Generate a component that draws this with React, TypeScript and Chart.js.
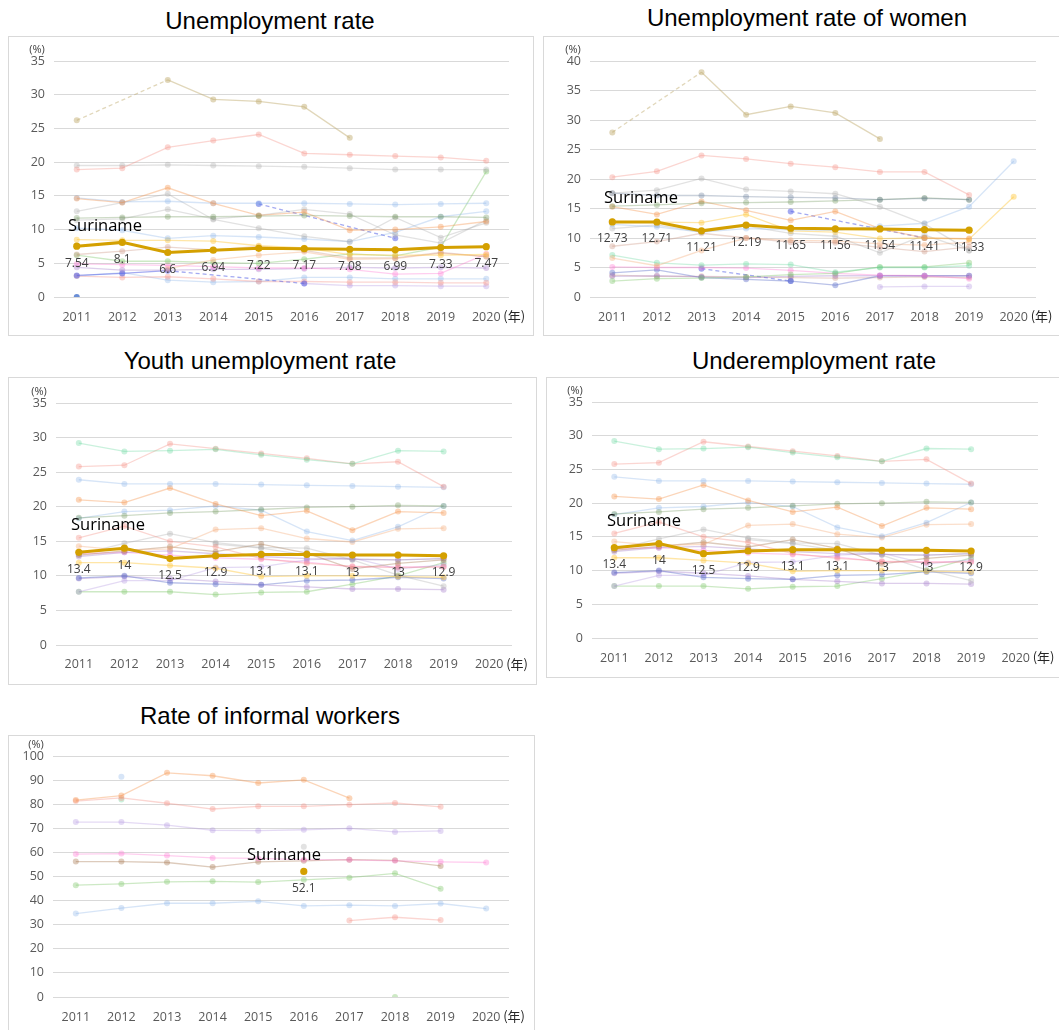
import React, { useEffect, useRef } from 'react';
import { Chart, registerables } from 'chart.js';
Chart.register(...registerables);

const years = ['2011', '2012', '2013', '2014', '2015', '2016', '2017', '2018', '2019', '2020'];

// ---------- Unemployment rate ----------
const unempSuriname = [7.54, 8.1, 6.6, 6.94, 7.22, 7.17, 7.08, 6.99, 7.33, 7.47];
const unempOthers: (number | null)[][] = [
  [26.2, null, 32.2, 29.3, 29.0, 28.2, 23.6, null, null, null],
  [18.9, 19.1, 22.2, 23.2, 24.1, 21.3, 21.1, 20.9, 20.7, 20.2],
  [19.5, 19.5, 19.6, 19.5, 19.4, 19.3, 19.1, 18.9, 18.9, 18.9],
  [11.7, 11.8, 11.9, 11.9, 12.0, 12.1, 12.0, 11.9, 11.9, 11.8],
  [14.6, 14.0, 16.2, 13.9, 12.1, 12.6, 9.9, 10.0, 10.4, 11.2],
  [14.7, 14.1, 14.2, 13.9, 13.9, 13.9, 13.8, 13.7, 13.8, 13.9],
  [12.7, 14.0, 15.3, 11.5, 10.2, 9.0, 8.2, 11.8, 8.8, 11.0],
  [11.4, 11.6, 13.0, 11.6, 12.1, 13.0, 12.3, 9.2, 8.0, 11.4],
  [null, null, null, null, 13.8, null, null, 8.7, null, null],
  [10.2, 9.9, 8.7, 9.1, 8.9, 8.6, 8.2, 9.6, 11.9, 12.7],
  [8.5, 8.4, 8.4, 8.3, 7.6, 7.3, 6.3, 6.2, 6.2, 6.3],
  [6.3, 6.8, 7.4, 7.0, 7.5, 6.9, 5.8, 5.8, 6.6, 6.0],
  [null, null, 4.2, 5.5, 6.2, 6.7, 5.6, 5.7, 6.5, 6.0],
  [6.2, 5.3, 5.3, 5.1, 5.0, 5.6, 6.4, 6.1, 7.4, 18.6],
  [4.9, 4.8, 4.7, 4.5, 4.3, 4.3, 4.1, 3.4, 3.5, 6.4],
  [4.4, 4.0, 4.0, 4.1, 4.1, 4.2, 4.4, 4.3, 4.4, 4.3],
  [3.2, 3.5, 3.9, null, null, 2.0, null, null, null, null],
  [3.1, 2.9, 3.0, 2.7, 2.3, 2.3, 2.2, 2.2, 2.1, 2.1],
  [3.1, 3.6, 2.5, 2.2, 2.3, 2.9, 2.9, 2.7, 2.7, 2.7],
  [null, null, null, null, null, 2.0, 1.7, 1.7, 1.6, 1.6],
  [0, null, null, null, null, null, null, null, null, null],
];

// ---------- Unemployment rate of women ----------
const womenSuriname = [12.73, 12.71, 11.21, 12.19, 11.65, 11.56, 11.54, 11.41, 11.33, null];
const womenOthers: (number | null)[][] = [
  [27.9, null, 38.1, 30.9, 32.3, 31.2, 26.8, null, null, null],
  [20.3, 21.3, 24.0, 23.4, 22.6, 22.0, 21.2, 21.2, 17.3, null],
  [17.6, 18.1, 20.1, 18.2, 17.9, 17.5, 15.3, 12.4, 7.9, null],
  [17.6, 17.2, 17.2, 17.0, 16.9, 16.8, 16.5, 16.7, 16.5, null],
  [15.4, 15.6, 15.9, 16.0, 16.1, 16.3, 16.5, 16.8, 16.5, null],
  [12.3, 11.9, 11.0, 11.6, 11.4, 11.3, 12.0, 12.5, 15.3, 23.0],
  [15.3, 14.0, 16.2, 14.7, 13.0, 14.5, 11.6, 10.0, 9.9, null],
  [12.8, 12.7, 12.6, 14.0, 11.2, 11.0, 9.9, 10.0, 9.8, 17.0],
  [11.6, 12.2, 11.0, 12.0, 10.8, 10.3, 7.5, 10.5, 7.9, null],
  [8.6, 9.4, 10.8, 10.0, 9.3, 9.2, 8.4, 7.7, 8.5, null],
  [6.6, 5.3, 7.9, 10.0, 9.6, 9.5, 9.0, 8.8, 9.3, null],
  [null, null, null, null, 14.5, null, null, 10.0, null, null],
  [7.1, 5.8, 5.4, 5.6, 5.5, 4.2, 5.0, 5.0, 5.3, null],
  [2.7, 3.1, 3.2, 3.4, 3.8, 4.0, 5.1, 5.1, 5.8, null],
  [5.1, 5.0, 5.0, 4.9, 4.5, 4.0, 3.7, 3.6, 3.1, null],
  [3.5, 3.6, 3.4, 3.3, 3.5, 3.6, 3.6, 3.6, 3.6, null],
  [4.1, 4.6, 3.3, 3.0, 2.7, 2.0, 3.6, 3.6, 3.6, null],
  [null, null, 4.8, null, 2.7, null, null, null, null, null],
  [3.7, 3.5, 3.5, 3.4, 3.3, 3.2, 3.3, 3.4, 3.3, null],
  [null, null, null, null, null, null, 1.7, 1.8, 1.8, null],
];

// ---------- Youth unemployment rate ----------
const youthSuriname = [13.4, 14, 12.5, 12.9, 13.1, 13.1, 13, 13, 12.9, null];
const youthOthers: (number | null)[][] = [
  [29.2, 28.0, 28.1, 28.3, 27.5, 26.8, 26.2, 28.1, 28.0, null],
  [25.8, 26.0, 29.1, 28.4, 27.7, 27.0, 26.2, 26.5, 22.9, null],
  [23.9, 23.3, 23.3, 23.3, 23.2, 23.1, 23.0, 22.9, 22.8, null],
  [21.0, 20.6, 22.7, 20.4, 18.7, 19.4, 16.6, 19.3, 19.1, null],
  [18.4, 18.7, 19.1, 19.3, 19.6, 19.9, 20.0, 20.2, 20.1, null],
  [18.3, 19.3, 19.5, 20.1, 19.5, 16.4, 15.1, 17.1, 20.1, null],
  [14.3, 13.7, 13.9, 16.7, 16.9, 15.4, 14.9, 16.8, 16.9, null],
  [15.5, 17.2, 15.0, 14.2, 12.5, 11.8, 11.4, 11.2, 11.3, null],
  [13.1, 14.7, 16.1, 14.8, 14.1, 14.0, 12.3, 10.1, 8.5, null],
  [13.0, 13.6, 14.2, 13.5, 14.6, 13.3, 11.0, 11.8, 12.3, null],
  [12.8, 13.4, 13.6, 13.2, 12.8, 12.5, 12.4, 12.3, 12.5, null],
  [11.9, 11.9, 11.5, 11.1, 9.9, 10.0, 10.0, 9.9, 9.8, null],
  [9.7, 10.0, 9.0, 8.8, 8.7, 9.3, 9.4, 9.8, 9.6, null],
  [7.7, 9.3, 9.3, 11.2, 11.3, 12.3, 12.6, 11.0, 11.6, null],
  [9.6, 9.9, 9.6, 9.2, 8.7, 8.4, 8.1, 8.1, 8.0, null],
  [7.7, 7.7, 7.7, 7.3, 7.6, 7.7, 8.8, 10.0, 11.9, null],
  [13.2, 13.4, 13.0, 12.6, 12.4, 12.0, 11.3, 11.3, 11.3, null],
  [null, null, null, 14.6, 14.0, 13.0, 12.4, 12.3, 12.5, null],
];

// ---------- Underemployment rate (same figures as shown in the source) ----------
const underSuriname = [13.4, 14, 12.5, 12.9, 13.1, 13.1, 13, 13, 12.9, null];
const underOthers: (number | null)[][] = youthOthers.map((r) => r.slice());

// ---------- Rate of informal workers ----------
const informalSuriname = [null, null, null, null, null, 52.1, null, null, null, null];
const informalOthers: (number | null)[][] = [
  [null, 91.4, null, null, null, null, null, null, null, null],
  [81.7, 83.6, 93.0, 91.8, 88.8, 90.1, 82.5, null, null, null],
  [81.3, 82.6, 80.4, 78.0, 79.1, 79.1, 79.8, 80.5, 78.9, null],
  [null, 81.9, null, null, null, null, null, null, null, null],
  [72.6, 72.6, 71.3, 69.2, 69.0, 69.4, 70.0, 68.5, 68.9, null],
  [59.3, 59.5, 58.7, 57.7, 57.5, 57.0, 56.9, 56.5, 56.1, 55.8],
  [56.2, 56.2, 55.8, 53.9, 56.1, 56.5, 57.0, 56.7, 54.4, null],
  [null, null, null, null, null, 62.3, null, null, null, null],
  [46.4, 46.9, 47.8, 48.0, 47.7, 48.6, 49.5, 51.3, 44.9, null],
  [34.6, 36.9, 38.9, 38.9, 39.7, 37.8, 38.1, 37.8, 38.8, 36.7],
  [null, null, null, null, null, null, 31.7, 33.1, 31.9, null],
  [null, null, null, null, null, null, null, 0, null, null],
];

// ---------- styles ----------
const GOLD = '#d4a000';
const P = {
  tan: 'rgba(196,176,118,0.5)',
  salmon: 'rgba(245,140,130,0.36)',
  gray: 'rgba(165,165,165,0.32)',
  olive: 'rgba(110,150,90,0.34)',
  orange: 'rgba(244,150,80,0.4)',
  lightBlue: 'rgba(130,175,230,0.32)',
  dashBlue: 'rgba(90,100,230,0.55)',
  yellow: 'rgba(255,200,60,0.45)',
  rose: 'rgba(200,140,120,0.34)',
  peach: 'rgba(245,170,120,0.38)',
  green: 'rgba(130,200,110,0.4)',
  mint: 'rgba(90,210,150,0.32)',
  pink: 'rgba(255,120,210,0.36)',
  mauve: 'rgba(160,120,200,0.36)',
  lavender: 'rgba(170,140,220,0.32)',
  slate: 'rgba(100,120,150,0.34)',
  brown: 'rgba(160,110,70,0.36)',
  blue: 'rgba(90,110,200,0.42)',
  blueSolid: 'rgba(90,130,210,0.9)',
};
const unempColors = [P.tan, P.salmon, P.gray, P.olive, P.orange, P.lightBlue, P.gray, P.gray, P.dashBlue, P.lightBlue, P.yellow, P.rose, P.peach, P.green, P.pink, P.mauve, P.dashBlue, P.salmon, P.lightBlue, P.lavender, P.blueSolid];
const womenColors = [P.tan, P.salmon, P.gray, P.slate, P.olive, P.lightBlue, P.orange, P.yellow, P.gray, P.rose, P.peach, P.dashBlue, P.mint, P.green, P.pink, P.mauve, P.blue, P.dashBlue, P.rose, P.lavender];
const youthColors = [P.mint, P.salmon, P.lightBlue, P.orange, P.olive, P.lightBlue, P.peach, P.salmon, P.gray, P.brown, P.mauve, P.yellow, P.blue, P.lavender, P.mauve, P.green, P.pink, P.gray];
const informalColors = [P.lightBlue, P.orange, P.salmon, P.mint, P.lavender, P.pink, P.brown, P.gray, P.green, P.lightBlue, P.salmon, P.green];

const TICK_FONT = { family: '"Open Sans", "DejaVu Sans", sans-serif', size: 12.5 };

type PanelProps = {
  title: string;
  titleX: number;
  titleY: number;
  box: { x: number; y: number; w: number; h: number };
  inset: { l: number; r: number; t: number; b: number };
  xPad: number;
  yMax: number;
  yStep: number;
  suriname: (number | null)[];
  others: (number | null)[][];
  colors: string[];
  suriLabel: { x: number; y: number };
};

function Panel(props: PanelProps) {
  const ref = useRef<HTMLCanvasElement>(null);
  useEffect(() => {
    if (!ref.current) return;
    const isGap = (c: any) =>
      c.p0.skip || c.p1.skip || (c.p0.parsed && c.p1.parsed && c.p1.parsed.x - c.p0.parsed.x > 1);
    const datasets: any[] = [
      {
        data: props.suriname,
        borderColor: GOLD,
        backgroundColor: GOLD,
        borderWidth: 3,
        pointRadius: 3.6,
        pointBorderWidth: 0,
        spanGaps: false,
      },
      ...props.others.map((d, i) => ({
        data: d,
        borderColor: props.colors[i],
        backgroundColor: props.colors[i],
        borderWidth: 1.3,
        pointRadius: 3,
        pointBorderWidth: 0,
        spanGaps: true,
        segment: { borderDash: (c: any) => (isGap(c) ? [4, 3] : undefined) },
      })),
    ];
    const annot = {
      id: 'annot',
      afterDatasetsDraw(chart: any) {
        const ctx = chart.ctx;
        const meta = chart.getDatasetMeta(0);
        const data = chart.data.datasets[0].data;
        ctx.save();
        ctx.font = '12px "Open Sans", sans-serif';
        ctx.fillStyle = '#404040';
        ctx.textAlign = 'center';
        ctx.textBaseline = 'middle';
        meta.data.forEach((pt: any, i: number) => {
          const v = data[i];
          if (v == null) return;
          ctx.fillText(String(v), pt.x, pt.y + 17);
        });
        const { left, top, bottom } = chart.chartArea;
        ctx.font = '11px "Open Sans", sans-serif';
        ctx.fillStyle = '#404040';
        ctx.fillText('(%)', left - 17, top - 11);
        const xs = chart.scales.x;
        const lastX = xs.getPixelForTick(xs.ticks.length - 1);
        ctx.textAlign = 'left';
        ctx.font = '13px "Noto Sans CJK JP", sans-serif';
        ctx.fillStyle = '#262626';
        ctx.fillText('(年)', lastX + 17, bottom + 19);
        ctx.restore();
      },
    };
    const chart = new Chart(ref.current, {
      type: 'line',
      data: { labels: years, datasets },
      options: {
        animation: false,
        responsive: false,
        maintainAspectRatio: false,
        layout: { padding: { left: 0, right: props.inset.r, top: props.inset.t, bottom: 0 } },
        plugins: { legend: { display: false }, tooltip: { enabled: false } },
        scales: {
          x: {
            offset: true,
            grid: { display: false },
            border: { display: false },
            ticks: { color: '#595959', font: TICK_FONT, padding: props.xPad, maxRotation: 0, autoSkip: false },
            afterFit: (s: any) => {
              s.height = props.inset.b;
            },
          },
          y: {
            min: 0,
            max: props.yMax,
            ticks: { stepSize: props.yStep, color: '#595959', font: TICK_FONT, padding: 9 },
            grid: { color: '#d9d9d9', drawTicks: false, lineWidth: 1 },
            border: { display: false },
            afterFit: (s: any) => {
              s.width = props.inset.l;
            },
          },
        },
      } as any,
      plugins: [annot],
    });
    return () => chart.destroy();
  }, []);
  const { box } = props;
  return (
    <>
      <div
        style={{
          position: 'absolute',
          left: props.titleX,
          top: props.titleY,
          transform: 'translate(-50%, -50%)',
          fontFamily: '"Liberation Sans", Arial, sans-serif',
          fontSize: 24,
          color: '#000',
          whiteSpace: 'nowrap',
        }}
      >
        {props.title}
      </div>
      <div
        style={{
          position: 'absolute',
          left: box.x,
          top: box.y,
          width: box.w,
          height: box.h,
          border: '1px solid #d9d9d9',
          boxSizing: 'border-box',
        }}
      />
      <canvas
        ref={ref}
        width={box.w}
        height={box.h}
        style={{ position: 'absolute', left: box.x, top: box.y, width: box.w, height: box.h }}
      />
      <div
        style={{
          position: 'absolute',
          left: props.suriLabel.x,
          top: props.suriLabel.y,
          transform: 'translateY(-50%)',
          fontFamily: '"Open Sans", sans-serif',
          fontSize: 16.5,
          color: '#000',
          whiteSpace: 'nowrap',
          lineHeight: 1,
        }}
      >
        Suriname
      </div>
    </>
  );
}

export default function App() {
  return (
    <div style={{ position: 'absolute', left: 0, top: 0, width: 1059, height: 1030, overflow: 'hidden', background: '#fff' }}>
      <Panel
        title="Unemployment rate"
        titleX={270}
        titleY={21}
        box={{ x: 8, y: 36, w: 526, h: 300 }}
        inset={{ l: 46, r: 25, t: 25, b: 39 }}
        xPad={5}
        yMax={35}
        yStep={5}
        suriname={unempSuriname}
        others={unempOthers}
        colors={unempColors}
        suriLabel={{ x: 68, y: 225 }}
      />
      <Panel
        title="Unemployment rate of women"
        titleX={807}
        titleY={18}
        box={{ x: 543, y: 36, w: 517, h: 300 }}
        inset={{ l: 47, r: 24, t: 25, b: 39 }}
        xPad={5}
        yMax={40}
        yStep={5}
        suriname={womenSuriname}
        others={womenOthers}
        colors={womenColors}
        suriLabel={{ x: 604, y: 197 }}
      />
      <Panel
        title="Youth unemployment rate"
        titleX={260}
        titleY={361}
        box={{ x: 8, y: 377, w: 529, h: 308 }}
        inset={{ l: 48, r: 25, t: 26, b: 40 }}
        xPad={4}
        yMax={35}
        yStep={5}
        suriname={youthSuriname}
        others={youthOthers}
        colors={youthColors}
        suriLabel={{ x: 71, y: 524 }}
      />
      <Panel
        title="Underemployment rate"
        titleX={814}
        titleY={361}
        box={{ x: 546, y: 377, w: 514, h: 301 }}
        inset={{ l: 46, r: 22, t: 25, b: 40 }}
        xPad={5}
        yMax={35}
        yStep={5}
        suriname={underSuriname}
        others={underOthers}
        colors={youthColors}
        suriLabel={{ x: 607, y: 520 }}
      />
      <Panel
        title="Rate of informal workers"
        titleX={270}
        titleY={716}
        box={{ x: 8, y: 735, w: 527, h: 300 }}
        inset={{ l: 45, r: 26, t: 21, b: 38 }}
        xPad={5}
        yMax={100}
        yStep={10}
        suriname={informalSuriname}
        others={informalOthers}
        colors={informalColors}
        suriLabel={{ x: 247, y: 854 }}
      />
    </div>
  );
}
